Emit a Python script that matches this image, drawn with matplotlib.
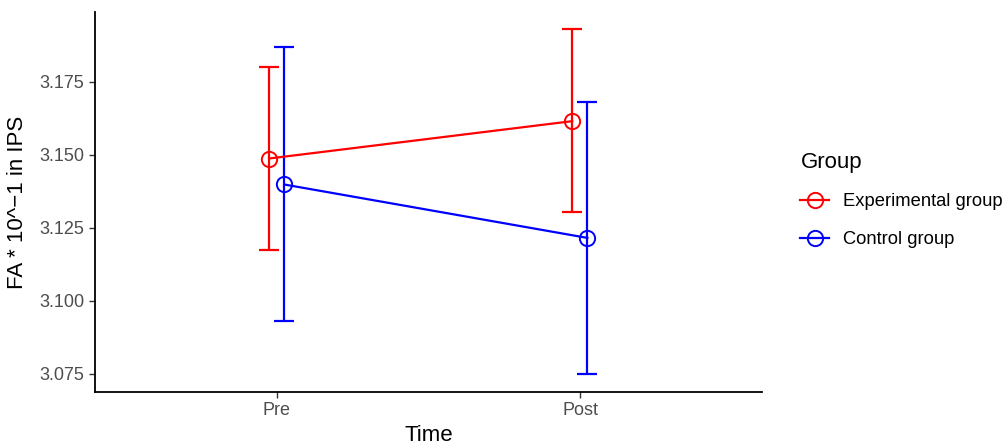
import matplotlib
matplotlib.use("Agg")
import matplotlib.pyplot as plt
from matplotlib.lines import Line2D
import numpy as np

plt.rcParams['font.family'] = ['Liberation Sans', 'DejaVu Sans']

times = ["Pre", "Post"]
groups = ["Experimental group", "Control group"]
colors = ["#FF0000", "#0000FF"]
means = {
    "Experimental group": [3.1487, 3.1615],
    "Control group": [3.1398, 3.1215],
}
lower = {
    "Experimental group": [3.1174, 3.1304],
    "Control group": [3.0930, 3.0750],
}
upper = {
    "Experimental group": [3.1801, 3.1930],
    "Control group": [3.1869, 3.1679],
}
yticks = [3.075, 3.100, 3.125, 3.150, 3.175]

W, H = 1004, 444
fig = plt.figure(figsize=(W / 100, H / 100), dpi=100)
ax = fig.add_axes([95 / W, (H - 392) / H, (762 - 95) / W, (392 - 12) / H])

x = np.arange(1, len(times) + 1)
dodge = [-0.026, 0.024]
for g, c, d in zip(groups, colors, dodge):
    xs = x + d
    m = np.array(means[g])
    lo = np.array(lower[g])
    hi = np.array(upper[g])
    ax.errorbar(xs, m, yerr=[m - lo, hi - m], fmt='none', ecolor=c,
                elinewidth=1.6, capsize=7, capthick=1.6, zorder=2)
    ax.plot(xs, m, color=c, lw=1.6, marker='o', ms=11, mfc='none',
            mec=c, mew=1.4, zorder=3)

ax.set_xlim(0.4, 2.6)
ax.set_ylim(3.0687, 3.1989)
ax.set_xticks(x)
ax.set_xticklabels(times)
ax.set_yticks(yticks)
ax.set_yticklabels([f"{v:.3f}" for v in yticks])
ax.tick_params(axis='both', colors='#333333', labelcolor='#4D4D4D',
               labelsize=13, length=4, width=1)
for s in ['top', 'right']:
    ax.spines[s].set_visible(False)
for s in ['left', 'bottom']:
    ax.spines[s].set_linewidth(1.3)
    ax.spines[s].set_color('black')

ax.set_xlabel("Time", fontsize=16, color='black', labelpad=4)
ax.set_ylabel("FA * 10^\u22121 in IPS", fontsize=16, color='black', labelpad=8)

handles = [Line2D([0], [0], color=c, lw=1.6, marker='o', ms=11, mfc='none',
                  mec=c, mew=1.4) for c in colors]
leg = fig.legend(handles, groups, loc='center left',
                 bbox_to_anchor=(784 / W, 1 - 200 / H), frameon=False,
                 title="Group", title_fontsize=16, fontsize=13.2,
                 handlelength=1.55, handletextpad=0.75, labelspacing=1.15)
leg._legend_box.align = "left"
leg._legend_box.sep = 15

fig.savefig("out.png", dpi=100)
